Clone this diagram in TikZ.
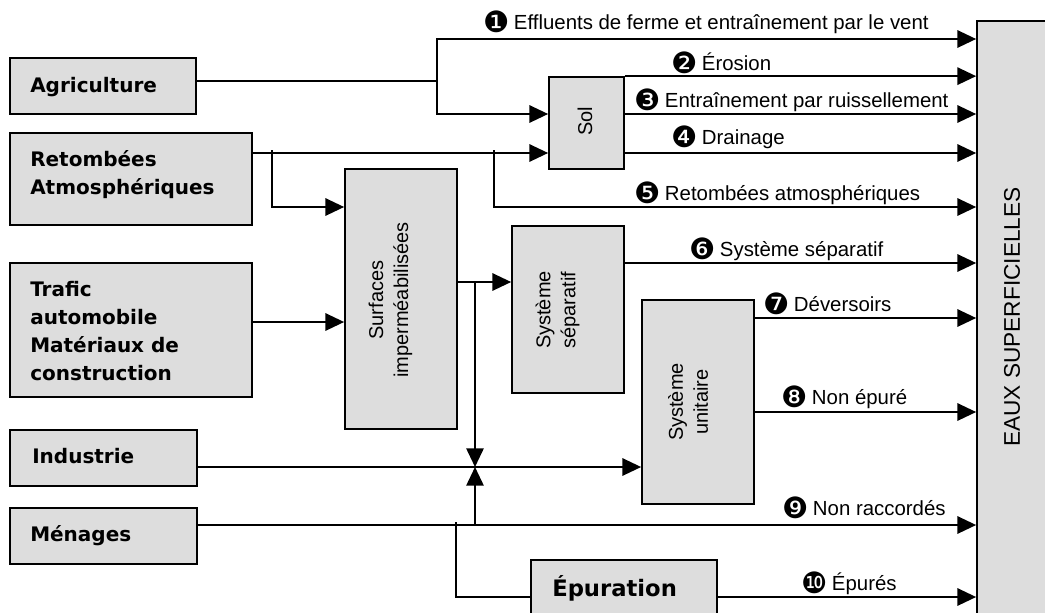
\documentclass[tikz,border=0pt]{standalone}
\usepackage{fontspec}
\usetikzlibrary{arrows.meta,fit}
\newfontfamily\boxfont{DejaVu Sans}
\newfontfamily\labfont{Liberation Sans}
\newfontfamily\dingfont{DejaVu Sans}
\definecolor{boxgray}{RGB}{221,221,221}
\newcommand\cnum[1]{{\dingfont\fontsize{22}{22}\selectfont\raisebox{-2.5pt}{#1}}\hspace{3.3pt}}
\tikzset{
  box/.style={draw=black, fill=boxgray, line width=1.3pt, inner sep=0pt},
  wire/.style={line width=1.3pt},
  flow/.style={line width=1.3pt, -{Triangle[length=14pt,width=13pt]}},
  boxtxt/.style={font=\boxfont\bfseries\fontsize{15}{21}\selectfont, align=left, inner sep=0pt},
  rottxt/.style={font=\labfont\fontsize{15}{18.75}\selectfont, align=center, rotate=90, inner sep=0pt},
  flowlbl/.style={font=\labfont\fontsize{15.3}{18}\selectfont, anchor=base west, inner sep=0pt},
}
\begin{document}
\begin{tikzpicture}[x=0.75pt,y=-0.75pt]
\useasboundingbox (0,0) rectangle (1045,612);
\clip (0,0) rectangle (1045,612);
% boxes
\node[box, fit={(10,58) (196,114)}] (agri) {};
\node[box, fit={(10,133) (252,225)}] (ret) {};
\node[box, fit={(10,263) (252,397)}] (traf) {};
\node[box, fit={(10,430) (197,486)}] (ind) {};
\node[box, fit={(10,508) (197,564)}] (men) {};
\node[box, fit={(345,169) (457,429)}] (surf) {};
\node[box, fit={(549,77) (624,169)}] (sol) {};
\node[box, fit={(512,226) (624,393)}] (sep) {};
\node[box, fit={(642,300) (754,504)}] (uni) {};
\node[box, fit={(531,560) (717,640)}] (epu) {};
\node[box, fit={(977,21) (1070,640)}] (eaux) {};
% box texts
\node[boxtxt, anchor=base west] (agritxt) at (30,92) {Agriculture};
\node[boxtxt, anchor=west] (rettxt) at (30,175) {Retombées\\Atmosphériques};
\node[boxtxt, anchor=west] (traftxt) at (30,331) {Trafic\\automobile\\Matériaux de\\construction};
\node[boxtxt, anchor=base west] (indtxt) at (32,463) {Industrie};
\node[boxtxt, anchor=base west] (mentxt) at (30,541) {Ménages};
\node[boxtxt, anchor=base west, font=\boxfont\bfseries\fontsize{17}{20}\selectfont] (eputxt) at (552,596) {Épuration};
\node[rottxt] (surftxt) at (390.5,300) {Surfaces\\imperméabilisées};
\node[rottxt] (septxt) at (557.5,310) {Système\\séparatif};
\node[rottxt] (unitxt) at (688,402) {Système\\unitaire};
\node[rottxt] (soltxt) at (585,121) {Sol};
\node[rottxt, font=\labfont\fontsize{17}{20}\selectfont] (eauxtxt) at (1012,317) {EAUX SUPERFICIELLES};
% connectors
\coordinate (ja) at (437,81);
\draw[wire] (agri.east |- ja) -- (ja);
\draw[flow] (ja) |- (eaux.west |- 0,39);
\draw[flow] (ja) |- (sol.west |- 0,114);
\draw[flow] (sol.north east) -- (eaux.west |- sol.north east);
\draw[flow] (sol.east |- 0,114) -- (eaux.west |- 0,114);
\draw[flow] (sol.east |- 0,153) -- (eaux.west |- 0,153);
\draw[flow] (ret.east |- 0,153) -- (sol.west |- 0,153);
\coordinate (jr1) at (272,150);
\coordinate (jr2) at (494,150);
\draw[flow] (jr1) |- (surf.west |- 0,207);
\draw[flow] (jr2) |- (eaux.west |- 0,207);
\draw[flow] (traf.east |- 0,322) -- (surf.west |- 0,322);
\draw[flow] (surf.east |- 0,282) -- (sep.west |- 0,282);
\draw[flow] (sep.east |- 0,263) -- (eaux.west |- 0,263);
\coordinate (js) at (475,282);
\coordinate (jn) at (475,467);
\coordinate (jm) at (475,525);
\draw[flow] (js) -- (jn);
\draw[flow] (ind.east |- jn) -- (uni.west |- jn);
\draw[flow] (uni.east |- 0,318) -- (eaux.west |- 0,318);
\draw[flow] (uni.east |- 0,412) -- (eaux.west |- 0,412);
\draw[flow] (men.east |- jm) -- (eaux.west |- jm);
\draw[flow] (jm) -- (jn);
\coordinate (je) at (456,522);
\draw[wire] (je) |- (epu.west |- 0,597);
\draw[flow] (epu.east |- 0,597) -- (eaux.west |- 0,597);
% flow labels
\node[flowlbl] (l1) at (483,29) {\cnum{❶}Effluents de ferme et entraînement par le vent};
\node[flowlbl] (l2) at (671,70) {\cnum{❷}Érosion};
\node[flowlbl] (l3) at (634,107) {\cnum{❸}Entraînement par ruissellement};
\node[flowlbl] (l4) at (671,144) {\cnum{❹}Drainage};
\node[flowlbl] (l5) at (634,200) {\cnum{❺}Retombées atmosphériques};
\node[flowlbl] (l6) at (689,256) {\cnum{❻}Système séparatif};
\node[flowlbl] (l7) at (763,311) {\cnum{❼}Déversoirs};
\node[flowlbl] (l8) at (781,404) {\cnum{❽}Non épuré};
\node[flowlbl] (l9) at (782,515) {\cnum{❾}Non raccordés};
\node[flowlbl] (l10) at (801,590) {\cnum{❿}Épurés};
\end{tikzpicture}
\end{document}
